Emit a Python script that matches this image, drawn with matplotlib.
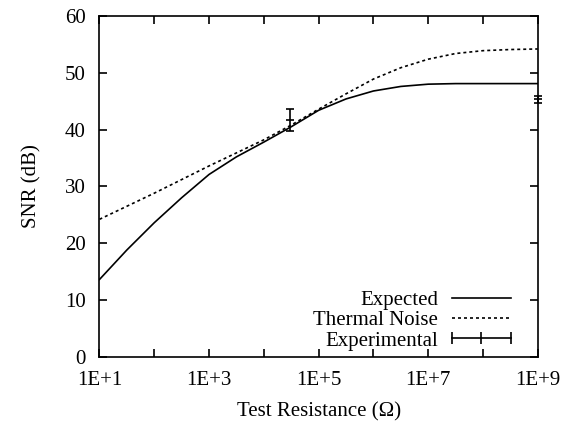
import matplotlib
matplotlib.use("Agg")
import matplotlib.pyplot as plt
from matplotlib.lines import Line2D
from matplotlib.ticker import FixedLocator, NullLocator
import numpy as np

plt.rcParams['font.family'] = ['Liberation Serif', 'DejaVu Serif']

# resistance in log10 decades
log_r = [1, 1.5, 2, 2.5, 3, 3.5, 4, 4.5, 5, 5.5, 6, 6.5, 7, 7.5, 8, 8.5, 9]
expected = [13.6, 18.8, 23.6, 28.0, 32.1, 35.2, 37.8, 40.5, 43.4, 45.4, 46.8,
            47.6, 48.0, 48.1, 48.1, 48.1, 48.1]
thermal = [24.2, 26.5, 28.8, 31.2, 33.6, 35.9, 38.2, 40.8, 43.6, 46.3, 48.9,
           50.9, 52.4, 53.4, 53.9, 54.1, 54.2]

# experimental points
exp_log_r = [4.47, 9]
exp_snr = [41.7, 45.3]
exp_err = [2.0, 0.7]

tick_decades = [1, 2, 3, 4, 5, 6, 7, 8, 9]
tick_labels = ["1E+1", "", "1E+3", "", "1E+5", "", "1E+7", "", "1E+9"]

r = np.power(10.0, log_r)
exp_r = np.power(10.0, exp_log_r)

dots = (0, (1.8, 1.8))
fs = 15

fig = plt.figure(figsize=(5.73, 4.23), dpi=100)
ax = fig.add_axes([0.1736, 0.1567, 0.765, 0.8054])

ax.plot(r, expected, color='black', lw=1.2)
ax.plot(r, thermal, color='black', lw=1.2, linestyle=dots)
eb = ax.errorbar(exp_r, exp_snr, yerr=exp_err, fmt='_', color='black',
                 ms=6, mew=1.2, elinewidth=1.2, capsize=2.8, capthick=1.2)
parts = [eb.lines[0]] + list(eb.lines[1]) + list(eb.lines[2])
for art in parts:
    art.set_clip_on(False)

ax.set_xscale('log')
ax.set_xlim(10, 1e9)
ax.set_ylim(0, 60)
ax.xaxis.set_major_locator(FixedLocator(np.power(10.0, tick_decades)))
ax.xaxis.set_minor_locator(NullLocator())
ax.set_xticklabels(tick_labels)
ax.set_yticks([0, 10, 20, 30, 40, 50, 60])

ax.tick_params(direction='in', length=6, width=1.2, top=True, right=True,
               labelsize=fs)
ax.tick_params(axis='x', pad=10)
ax.tick_params(axis='y', pad=10)
for s in ax.spines.values():
    s.set_linewidth(1.2)

ax.set_xlabel("Test Resistance (\u03a9)", fontsize=fs, labelpad=9)
ax.set_ylabel("SNR (dB)", fontsize=fs, labelpad=17)

handles = [Line2D([], [], color='black', lw=1.2),
           Line2D([], [], color='black', lw=1.2, linestyle=dots),
           Line2D([], [], color='black', lw=1.2, marker='|', ms=8, mew=1.2)]
ax.legend(handles, ["Expected", "Thermal Noise", "Experimental"],
          loc='lower right', bbox_to_anchor=(0.952, 0.018), frameon=False,
          markerfirst=False, numpoints=3, fontsize=fs, handlelength=3.4,
          handletextpad=0.37, labelspacing=0.03, borderaxespad=0, borderpad=0)

fig.savefig("out.png", dpi=100)
